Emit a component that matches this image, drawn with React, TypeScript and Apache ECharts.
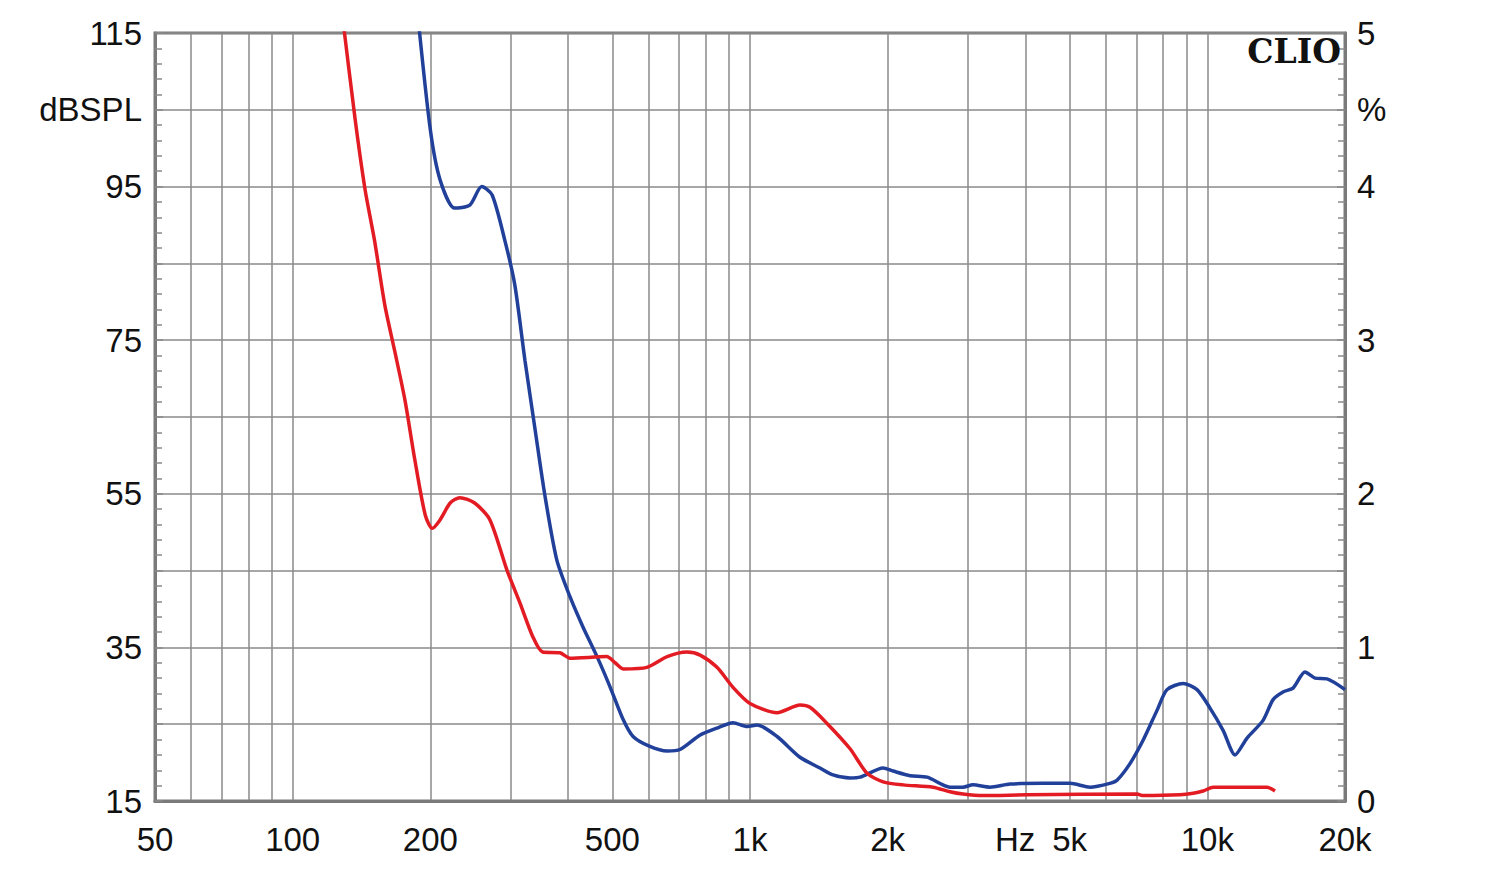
import React, { useEffect, useRef } from 'react';
import * as echarts from 'echarts';

// Blue curve (frequency in Hz, level in dBSPL)
const blueFreq = [188, 200, 210, 226, 244, 259, 273, 291, 306, 322, 339, 356, 378, 404, 431, 463, 494, 528, 555, 604, 659, 703, 778, 847, 918, 986, 1036, 1146, 1286, 1422, 1519, 1655, 1741, 1955, 2055, 2240, 2440, 2737, 2922, 3073, 3348, 3704, 4375, 5010, 5541, 6125, 6346, 6780, 7236, 7762, 8163, 8850, 9495, 10136, 10826, 11500, 12215, 13240, 13925, 14640, 15400, 16350, 17200, 18270, 20000];
const blueDb = [117, 102.4, 95.9, 92.2, 92.6, 95.0, 93.9, 88.0, 82.2, 72.4, 63.3, 54.8, 46.4, 41.6, 37.7, 33.8, 29.9, 25.6, 23.4, 22.1, 21.5, 21.7, 23.6, 24.5, 25.2, 24.7, 24.9, 23.4, 20.7, 19.3, 18.4, 18.0, 18.1, 19.3, 18.9, 18.3, 18.1, 16.8, 16.8, 17.1, 16.8, 17.2, 17.3, 17.3, 16.8, 17.3, 17.7, 19.9, 22.9, 26.8, 29.5, 30.3, 29.5, 27.1, 24.2, 21.0, 23.2, 25.5, 28.2, 29.2, 29.7, 31.8, 31.0, 30.9, 29.5];

// Red curve
const redFreq = [128, 137, 144, 151, 159, 167, 176, 185, 195, 202, 210, 221, 232, 250, 270, 294, 314, 335, 352, 384, 404, 486, 507, 528, 595, 659, 728, 778, 847, 918, 1000, 1146, 1286, 1353, 1474, 1655, 1803, 1955, 2161, 2513, 2737, 2922, 3233, 4036, 7020, 7236, 8716, 9310, 9790, 10300, 13510, 14060];
const redDb = [118, 103.7, 94.6, 88.0, 79.6, 73.7, 67.2, 59.4, 52.2, 50.5, 51.6, 53.8, 54.5, 53.8, 51.6, 45.1, 40.8, 36.4, 34.4, 34.3, 33.6, 33.8, 33.0, 32.2, 32.4, 33.8, 34.4, 34.0, 32.4, 29.8, 27.7, 26.5, 27.5, 27.2, 25.1, 21.8, 18.6, 17.5, 17.1, 16.8, 16.2, 15.9, 15.7, 15.8, 15.9, 15.7, 15.8, 16.0, 16.3, 16.8, 16.8, 16.3];

// Axis ticks
const gridFreqs = [50, 60, 70, 80, 90, 100, 200, 300, 400, 500, 600, 700, 800, 900, 1000, 2000, 3000, 4000, 5000, 6000, 7000, 8000, 9000, 10000, 20000];
const xLabelFreqs = [50, 100, 200, 500, 1000, 2000, 3800, 5000, 10000, 20000];
const xLabelTexts = ['50', '100', '200', '500', '1k', '2k', 'Hz', '5k', '10k', '20k'];
const leftLabelValues = [15, 35, 55, 75, 95, 115];
const leftUnitValue = 105;
const leftUnit = 'dBSPL';
const rightLabelValues = [0, 1, 2, 3, 4, 5];
const rightUnitValue = 4.5;
const rightUnit = '%';

const lg = (f: number) => Math.log10(f);

export default function App() {
  const ref = useRef<HTMLDivElement>(null);
  useEffect(() => {
    if (!ref.current) return;
    const chart = echarts.init(ref.current, null, { renderer: 'svg' });
    const gridColor = '#8a8a8a';
    const borderColor = '#7a7a7a';
    const font = '"Liberation Sans", Arial, sans-serif';
    const fs = 33;
    const option: any = {
      animation: false,
      backgroundColor: '#ffffff',
      grid: {
        left: 155, right: 155, top: 33, bottom: 69,
        show: true, borderColor: borderColor, borderWidth: 3, backgroundColor: 'transparent'
      },
      xAxis: {
        type: 'value',
        min: lg(50),
        max: lg(20000),
        axisLine: { show: true, lineStyle: { color: borderColor, width: 3 } },
        axisTick: { show: false, customValues: gridFreqs.map(lg) },
        splitLine: { show: true, lineStyle: { color: gridColor, width: 1.5 } },
        axisLabel: {
          customValues: xLabelFreqs.map(lg),
          margin: 22,
          fontSize: fs,
          fontFamily: font,
          color: '#111',
          formatter: (v: number) => {
            const i = xLabelFreqs.findIndex((f) => Math.abs(lg(f) - v) < 1e-6);
            return i >= 0 ? xLabelTexts[i] : '';
          }
        }
      },
      yAxis: [
        {
          type: 'value',
          position: 'left',
          min: 15, max: 115, interval: 10,
          axisLine: { show: true, lineStyle: { color: borderColor, width: 3 } },
          axisTick: { show: true, inside: true, length: 8, lineStyle: { color: gridColor, width: 1.5 } },
          minorTick: { show: true, splitNumber: 5, length: 7, lineStyle: { color: gridColor, width: 1.5 } },
          splitLine: { show: true, lineStyle: { color: gridColor, width: 1.5 } },
          axisLabel: {
            margin: 13,
            fontSize: fs,
            fontFamily: font,
            color: '#111',
            showMinLabel: true,
            showMaxLabel: true,
            formatter: (v: number) => {
              if (leftLabelValues.some((x) => Math.abs(x - v) < 1e-6)) return String(Math.round(v));
              if (Math.abs(v - leftUnitValue) < 1e-6) return leftUnit;
              return '';
            }
          }
        },
        {
          type: 'value',
          position: 'right',
          min: 0, max: 5, interval: 0.5,
          axisLine: { show: true, lineStyle: { color: borderColor, width: 3 } },
          axisTick: { show: true, inside: true, length: 8, lineStyle: { color: gridColor, width: 1.5 } },
          minorTick: { show: true, splitNumber: 5, length: 7, lineStyle: { color: gridColor, width: 1.5 } },
          splitLine: { show: false },
          axisLabel: {
            margin: 12,
            fontSize: fs,
            fontFamily: font,
            color: '#111',
            showMinLabel: true,
            showMaxLabel: true,
            formatter: (v: number) => {
              if (rightLabelValues.some((x) => Math.abs(x - v) < 1e-6)) return String(Math.round(v));
              if (Math.abs(v - rightUnitValue) < 1e-6) return rightUnit;
              return '';
            }
          }
        }
      ],
      graphic: [
        {
          type: 'text',
          x: 1341,
          y: 51,
          style: {
            text: 'CLIO',
            align: 'right',
            verticalAlign: 'middle',
            fontFamily: '"DejaVu Serif", "Liberation Serif", serif',
            fontWeight: 'bold',
            fontSize: 33,
            fill: '#111'
          },
          z: 10
        }
      ],
      series: [
        {
          type: 'line',
          name: 'blue',
          yAxisIndex: 0,
          data: blueFreq.map((f, i) => [lg(f), blueDb[i]]),
          showSymbol: false,
          smooth: 0.25,
          clip: true,
          lineStyle: { color: '#21409a', width: 3.5 },
          z: 3
        },
        {
          type: 'line',
          name: 'red',
          yAxisIndex: 0,
          data: redFreq.map((f, i) => [lg(f), redDb[i]]),
          showSymbol: false,
          smooth: 0.25,
          clip: true,
          lineStyle: { color: '#e31b23', width: 3.5 },
          z: 4
        }
      ]
    };
    chart.setOption(option);
    return () => chart.dispose();
  }, []);
  return (
    <div
      ref={ref}
      style={{ position: 'fixed', left: 0, top: 0, width: 1500, height: 870, background: '#fff' }}
    />
  );
}
